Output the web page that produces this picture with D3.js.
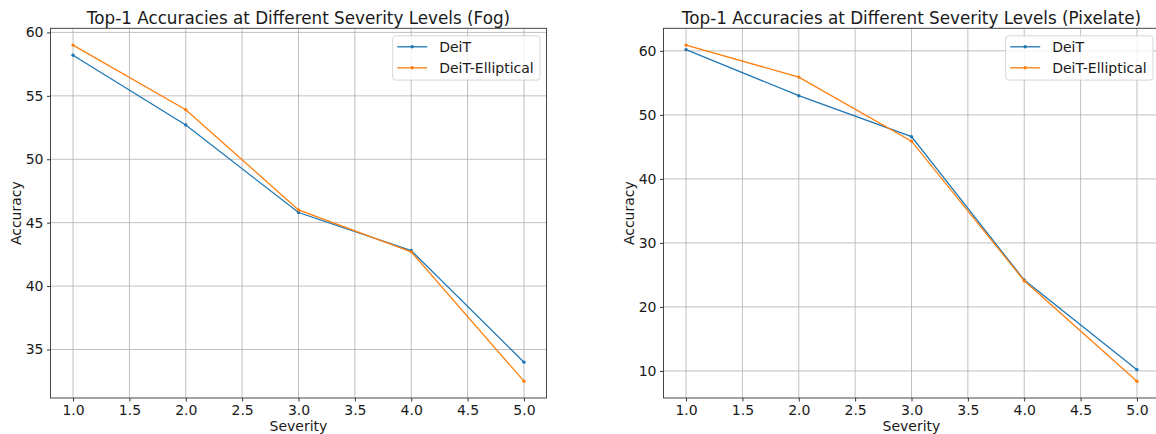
<!DOCTYPE html>
<html>
<head>
<meta charset="utf-8">
<script src="https://cdn.jsdelivr.net/npm/d3@7"></script>
<style>
  body { margin: 0; background: #ffffff; }
  svg { display: block; font-family: "DejaVu Sans", sans-serif; }
</style>
</head>
<body>
<div id="chart"></div>
<script>
// Data
const severities = [1, 2, 3, 4, 5];
const xTicks = [1.0, 1.5, 2.0, 2.5, 3.0, 3.5, 4.0, 4.5, 5.0];
const seriesNames = ['DeiT', 'DeiT-Elliptical'];
const seriesColors = ['#1f77b4', '#ff7f0e'];

const fogDeit = [58.2, 52.7, 45.8, 42.8, 34.0];
const fogElliptical = [59.0, 53.9, 46.0, 42.7, 32.5];
const fogYTicks = [35, 40, 45, 50, 55, 60];

const pixDeit = [60.2, 53.0, 46.6, 24.2, 10.2];
const pixElliptical = [60.9, 55.9, 45.9, 24.1, 8.4];
const pixYTicks = [10, 20, 30, 40, 50, 60];

const W = 1156, H = 434;
const baseFont = 14;

const svg = d3.select('#chart').append('svg')
  .attr('width', W)
  .attr('height', H);

svg.append('rect').attr('width', W).attr('height', H).attr('fill', '#ffffff');

// matplotlib-style 5% padding on the data range
function padded(min, max) {
  const m = (max - min) * 0.05;
  return [min - m, max + m];
}

function drawPanel(opts) {
  const { left, right, top, bottom, title, series, yTicks } = opts;
  const w = right - left, h = bottom - top;
  const g = svg.append('g').attr('transform', `translate(${left},${top})`);

  const x = d3.scaleLinear()
    .domain(padded(d3.min(severities), d3.max(severities)))
    .range([0, w]);

  const allVals = series.flat();
  const y = d3.scaleLinear()
    .domain(padded(d3.min(allVals), d3.max(allVals)))
    .range([h, 0]);

  // Grid
  g.append('g').selectAll('line')
    .data(xTicks)
    .enter().append('line')
    .attr('x1', d => x(d)).attr('x2', d => x(d))
    .attr('y1', 0).attr('y2', h)
    .attr('stroke', '#b0b0b0').attr('stroke-width', 0.8);
  g.append('g').selectAll('line')
    .data(yTicks)
    .enter().append('line')
    .attr('x1', 0).attr('x2', w)
    .attr('y1', d => y(d)).attr('y2', d => y(d))
    .attr('stroke', '#b0b0b0').attr('stroke-width', 0.8);

  // Axes
  const xAxis = g.append('g')
    .attr('transform', `translate(0,${h})`)
    .call(d3.axisBottom(x).tickValues(xTicks).tickFormat(d3.format('.1f'))
      .tickSize(3.5).tickPadding(3.3));
  const yAxis = g.append('g')
    .call(d3.axisLeft(y).tickValues(yTicks).tickFormat(d3.format('d'))
      .tickSize(3.5).tickPadding(3.5));
  [xAxis, yAxis].forEach(a => {
    a.select('.domain').remove();
    a.selectAll('line').attr('stroke', '#000').attr('stroke-width', 0.8);
    a.selectAll('text')
      .attr('fill', '#1a1a1a')
      .style('font-size', baseFont + 'px')
      .style('font-family', '"DejaVu Sans", sans-serif');
  });

  // Lines and markers
  const line = d3.line()
    .x((d, i) => x(severities[i]))
    .y(d => y(d));

  series.forEach((vals, si) => {
    g.append('path')
      .datum(vals)
      .attr('fill', 'none')
      .attr('stroke', seriesColors[si])
      .attr('stroke-width', 1.3)
      .attr('d', line);
    g.append('g').selectAll('circle')
      .data(vals)
      .enter().append('circle')
      .attr('cx', (d, i) => x(severities[i]))
      .attr('cy', d => y(d))
      .attr('r', 1.7)
      .attr('fill', seriesColors[si]);
  });

  // Spines
  g.append('rect')
    .attr('x', 0).attr('y', 0)
    .attr('width', w).attr('height', h)
    .attr('fill', 'none')
    .attr('stroke', '#333')
    .attr('stroke-width', 0.9);

  // Title
  g.append('text')
    .attr('x', w / 2)
    .attr('y', -4.8)
    .attr('text-anchor', 'middle')
    .style('font-size', (baseFont * 1.2) + 'px')
    .attr('fill', '#1a1a1a')
    .text(title);

  // Axis labels
  g.append('text')
    .attr('x', w / 2)
    .attr('y', h + 33)
    .attr('text-anchor', 'middle')
    .style('font-size', baseFont + 'px')
    .attr('fill', '#1a1a1a')
    .text('Severity');

  g.append('text')
    .attr('transform', `translate(-30,${h / 2}) rotate(-90)`)
    .attr('text-anchor', 'middle')
    .style('font-size', baseFont + 'px')
    .attr('fill', '#1a1a1a')
    .text('Accuracy');

  // Legend (upper right)
  const lgW = 147.3, lgH = 44.3;
  const lg = g.append('g')
    .attr('transform', `translate(${w - 6.5 - lgW},${7.5})`);
  lg.append('rect')
    .attr('width', lgW).attr('height', lgH)
    .attr('rx', 3).attr('ry', 3)
    .attr('fill', '#ffffff').attr('fill-opacity', 0.8)
    .attr('stroke', '#cccccc').attr('stroke-width', 0.8);

  seriesNames.forEach((name, i) => {
    const cy = 11 + i * 21;
    lg.append('line')
      .attr('x1', 4.5).attr('x2', 34.5)
      .attr('y1', cy).attr('y2', cy)
      .attr('stroke', seriesColors[i]).attr('stroke-width', 1.3);
    lg.append('circle')
      .attr('cx', 19.5).attr('cy', cy).attr('r', 1.7)
      .attr('fill', seriesColors[i]);
    lg.append('text')
      .attr('x', 46.5).attr('y', cy)
      .attr('dy', '0.36em')
      .style('font-size', baseFont + 'px')
      .attr('fill', '#1a1a1a')
      .text(name);
  });
}

drawPanel({
  left: 50.5, right: 546.5, top: 28.3, bottom: 398,
  title: 'Top-1 Accuracies at Different Severity Levels (Fog)',
  series: [fogDeit, fogElliptical],
  yTicks: fogYTicks
});

drawPanel({
  left: 663.5, right: 1159.5, top: 28.3, bottom: 398,
  title: 'Top-1 Accuracies at Different Severity Levels (Pixelate)',
  series: [pixDeit, pixElliptical],
  yTicks: pixYTicks
});
</script>
</body>
</html>
